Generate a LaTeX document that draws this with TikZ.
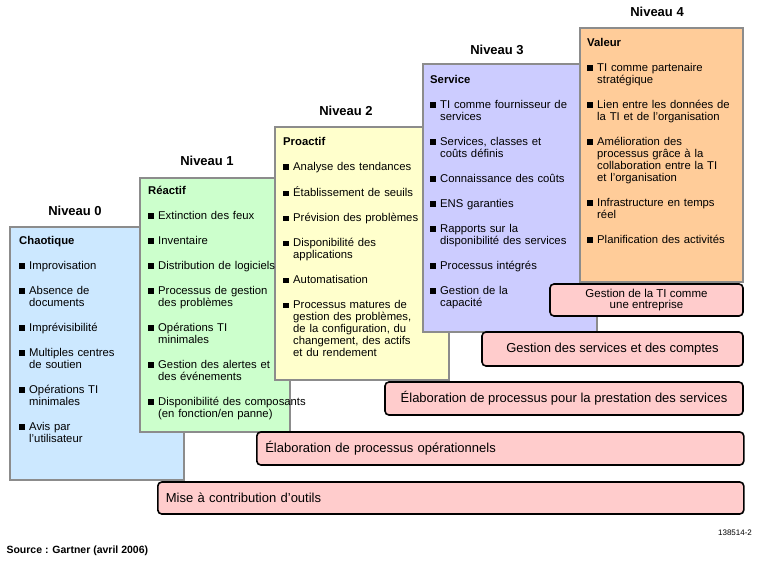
\documentclass[tikz,border=0pt]{standalone}
\usepackage{fontspec}
\setmainfont{Liberation Sans}
\newcommand\itm[1]{\par\vspace{13pt}\noindent\hangindent=10pt\hangafter=1\makebox[10pt][l]{\raisebox{0.5pt}{\rule{5.5pt}{5.5pt}}}{\let\\\newline #1}}
\begin{document}
\begin{tikzpicture}[x=1pt,y=-1pt,
 lvl/.style={draw=black!45,line width=1.2pt},
 cont/.style={anchor=north west,text width=172pt,align=left,inner sep=0pt,font=\fontsize{11.3}{12}\selectfont},
 niv/.style={font=\bfseries\fontsize{13}{14}\selectfont},
 pk/.style={draw=black,line width=1.6pt,fill=red!20,rounded corners=4pt,font=\fontsize{13}{13}\selectfont}]
\useasboundingbox (0,0) rectangle (760,563);
\definecolor{c0}{HTML}{CCE8FF}\definecolor{c1}{HTML}{CCFFCC}\definecolor{c2}{HTML}{FFFFCC}
\definecolor{c3}{HTML}{CCCCFF}\definecolor{c4}{HTML}{FFCC99}
\fill[c0] (10,227) rectangle (184,480); \draw[lvl] (10,227) rectangle (184,480);
\fill[c1] (140,178) rectangle (290,432); \draw[lvl] (140,178) rectangle (290,432);
\fill[c2] (275,127) rectangle (449,380); \draw[lvl] (275,127) rectangle (449,380);
\fill[c3] (423,64) rectangle (597,332); \draw[lvl] (423,64) rectangle (597,332);
\fill[c4] (580,28) rectangle (743,282); \draw[lvl] (580,28) rectangle (743,282);
\node[niv] (n0) at (75,211) {Niveau 0};
\node[niv] (n1) at (207,161) {Niveau 1};
\node[niv] (n2) at (346,111) {Niveau 2};
\node[niv] (n3) at (497,50) {Niveau 3};
\node[niv] (n4) at (657,12) {Niveau 4};
\node[cont] (t0) at (19,236) {\textbf{Chaotique}\itm{Improvisation}\itm{Absence de\\documents}\itm{Imprévisibilité}\itm{Multiples centres\\de soutien}\itm{Opérations TI\\minimales}\itm{Avis par\\l'utilisateur}\par};
\node[cont] (t1) at (148,186) {\textbf{Réactif}\itm{Extinction des feux}\itm{Inventaire}\itm{Distribution de logiciels}\itm{Processus de gestion\\des problèmes}\itm{Opérations TI\\minimales}\itm{Gestion des alertes et\\des événements}\itm{Disponibilité des composants\\(en fonction/en panne)}\par};
\node[cont] (t2) at (283,137) {\textbf{Proactif}\itm{Analyse des tendances}\itm{Établissement de seuils}\itm{Prévision des problèmes}\itm{Disponibilité des\\applications}\itm{Automatisation}\itm{Processus matures de\\gestion des problèmes,\\de la configuration, du\\changement, des actifs\\et du rendement}\par};
\node[cont] (t3) at (430,75) {\textbf{Service}\itm{TI comme fournisseur de\\services}\itm{Services, classes et\\coûts définis}\itm{Connaissance des coûts}\itm{ENS garanties}\itm{Rapports sur la\\disponibilité des services}\itm{Processus intégrés}\itm{Gestion de la\\capacité}\par};
\node[cont] (t4) at (587,38) {\textbf{Valeur}\itm{TI comme partenaire\\stratégique}\itm{Lien entre les données de\\la TI et de l'organisation}\itm{Amélioration des\\processus grâce à la\\collaboration entre la TI\\et l'organisation}\itm{Infrastructure en temps\\réel}\itm{Planification des activités}\par};
\node[pk,minimum width=193pt,minimum height=32pt,align=center,font=\fontsize{11.5}{11.5}\selectfont] (p1) at (646.5,300) {Gestion de la TI comme\\une entreprise};
\node[pk,minimum width=261pt,minimum height=34pt] (p2) at (612.5,349) {Gestion des services et des comptes};
\node[pk,minimum width=358pt,minimum height=33pt] (p3) at (564,398.5) {Élaboration de processus pour la prestation des services};
\node[pk,minimum width=487pt,minimum height=33pt,anchor=west,text width=470pt,align=left] (p4) at (256,448.5) {Élaboration de processus opérationnels};
\node[pk,minimum width=586pt,minimum height=32pt,anchor=west,text width=570pt,align=left] (p5) at (157,498) {Mise à contribution d'outils};
\node[font=\fontsize{8}{9}\selectfont] (id) at (735,533) {138514-2};
\node[anchor=west,font=\bfseries\fontsize{10.5}{12}\selectfont] (src) at (3,551) {Source : Gartner (avril 2006)};
\end{tikzpicture}
\end{document}
